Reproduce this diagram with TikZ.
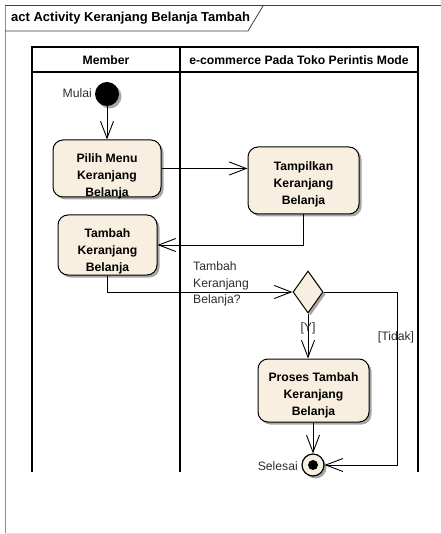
\documentclass[tikz,border=0pt]{standalone}
\usepackage{fontspec}
\setmainfont{Liberation Sans}
\usetikzlibrary{shapes.geometric,arrows.meta,shadows}
\definecolor{actfill}{RGB}{248,239,224}
\definecolor{labelgray}{RGB}{45,45,45}
\begin{document}
\begin{tikzpicture}[x=1pt,y=-1pt,
  boxshadow/.style={drop shadow={shadow xshift=2.5pt,shadow yshift=-2.5pt,fill=black!35,opacity=1}},
  actbox/.style={draw=black,line width=1pt,fill=actfill,rounded corners=10pt,inner sep=0pt,boxshadow},
  acttext/.style={align=center,inner sep=0pt,font=\fontsize{12.2}{17}\selectfont\bfseries},
  flow/.style={draw=black,line width=0.9pt,-{Straight Barb[length=17pt,width=13pt,line width=0.9pt]}},
  lbl/.style={text=labelgray,font=\fontsize{12.2}{16.7}\selectfont,inner sep=1pt},
  lane/.style={draw=black,line width=1.2pt},
  hdr/.style={font=\fontsize{12.2}{14}\selectfont\bfseries,inner sep=0pt}
]
\useasboundingbox (0,0) rectangle (440,534);
% frame
\draw[black!75,line width=1pt] (445,6) -- (5,6);
\draw[black!45,line width=1pt] (5,6) -- (5,533);
\draw[black!12,line width=1pt] (5,533) -- (445,533);
\draw[black!75,line width=0.8pt] (5,31) -- (248,31) -- (263,6);
\node[hdr,anchor=west,font=\fontsize{13}{15}\selectfont\bfseries] (title) at (11,18.5) {act Activity Keranjang Belanja Tambah};
% swimlanes
\draw[lane] (32,472) -- (32,47) -- (418,47) -- (418,472);
\draw[lane] (32,72) -- (418,72);
\draw[lane] (180,47) -- (180,472);
\node[hdr] (hmember) at (106,60) {Member};
\node[hdr] (hecom) at (299,60) {e-commerce Pada Toko Perintis Mode};
% nodes
\node[circle,fill=black,minimum size=24pt,inner sep=0pt,boxshadow] (init) at (107,94) {};
\node[lbl,anchor=east] (mulai) at (93,93) {Mulai};
\node[actbox,minimum width=108pt,minimum height=57pt] (pilih) at (107,168.5) {};
\node[acttext] (pilihT) at (107,176) {Pilih Menu\\Keranjang\\Belanja};
\node[actbox,minimum width=111pt,minimum height=67pt] (tamp) at (303.5,180.5) {};
\node[acttext] (tampT) at (303.5,184) {Tampilkan\\Keranjang\\Belanja};
\node[actbox,minimum width=99pt,minimum height=60pt] (tambah) at (107.5,245) {};
\node[acttext] (tambahT) at (107.5,251) {Tambah\\Keranjang\\Belanja};
\node[diamond,draw=black,line width=1pt,fill=actfill,minimum width=30pt,minimum height=42pt,aspect=0.714,inner sep=0pt,boxshadow] (dec) at (308,292) {};
\node[lbl,anchor=west,align=left] (q) at (192,284) {Tambah\\Keranjang\\Belanja?};
\node[actbox,minimum width=111pt,minimum height=63pt] (proses) at (313.5,390.5) {};
\node[acttext] (prosesT) at (313.5,395) {Proses Tambah\\Keranjang\\Belanja};
\node[circle,draw=black,line width=1.2pt,fill=actfill,minimum size=22pt,inner sep=0pt,boxshadow] (final) at (313,465) {};
\node[circle,fill=black,minimum size=10pt,inner sep=0pt] (finaldot) at (final) {};
\node[lbl,anchor=east] (selesai) at (299,466) {Selesai};
\coordinate (tcorner) at (397,465);
% flows
\draw[flow] (init) -- (pilih);
\draw[flow] (pilih.east) -- (pilih.east -| tamp.west);
\draw[flow] (tamp.south) |- (tambah.east);
\draw[flow] (tambah.south) |- (dec.west);
\draw[flow] (dec.south) -- (dec.south |- proses.north) node[lbl,pos=0.34] (ylbl) {[Y]};
\draw[flow] (dec.east) -| (tcorner) -- (final.east);
\draw[flow] (proses.south -| final) -- (final.north);
\node[lbl] (tidak) at (396,337) {[Tidak]};
\end{tikzpicture}
\end{document}
